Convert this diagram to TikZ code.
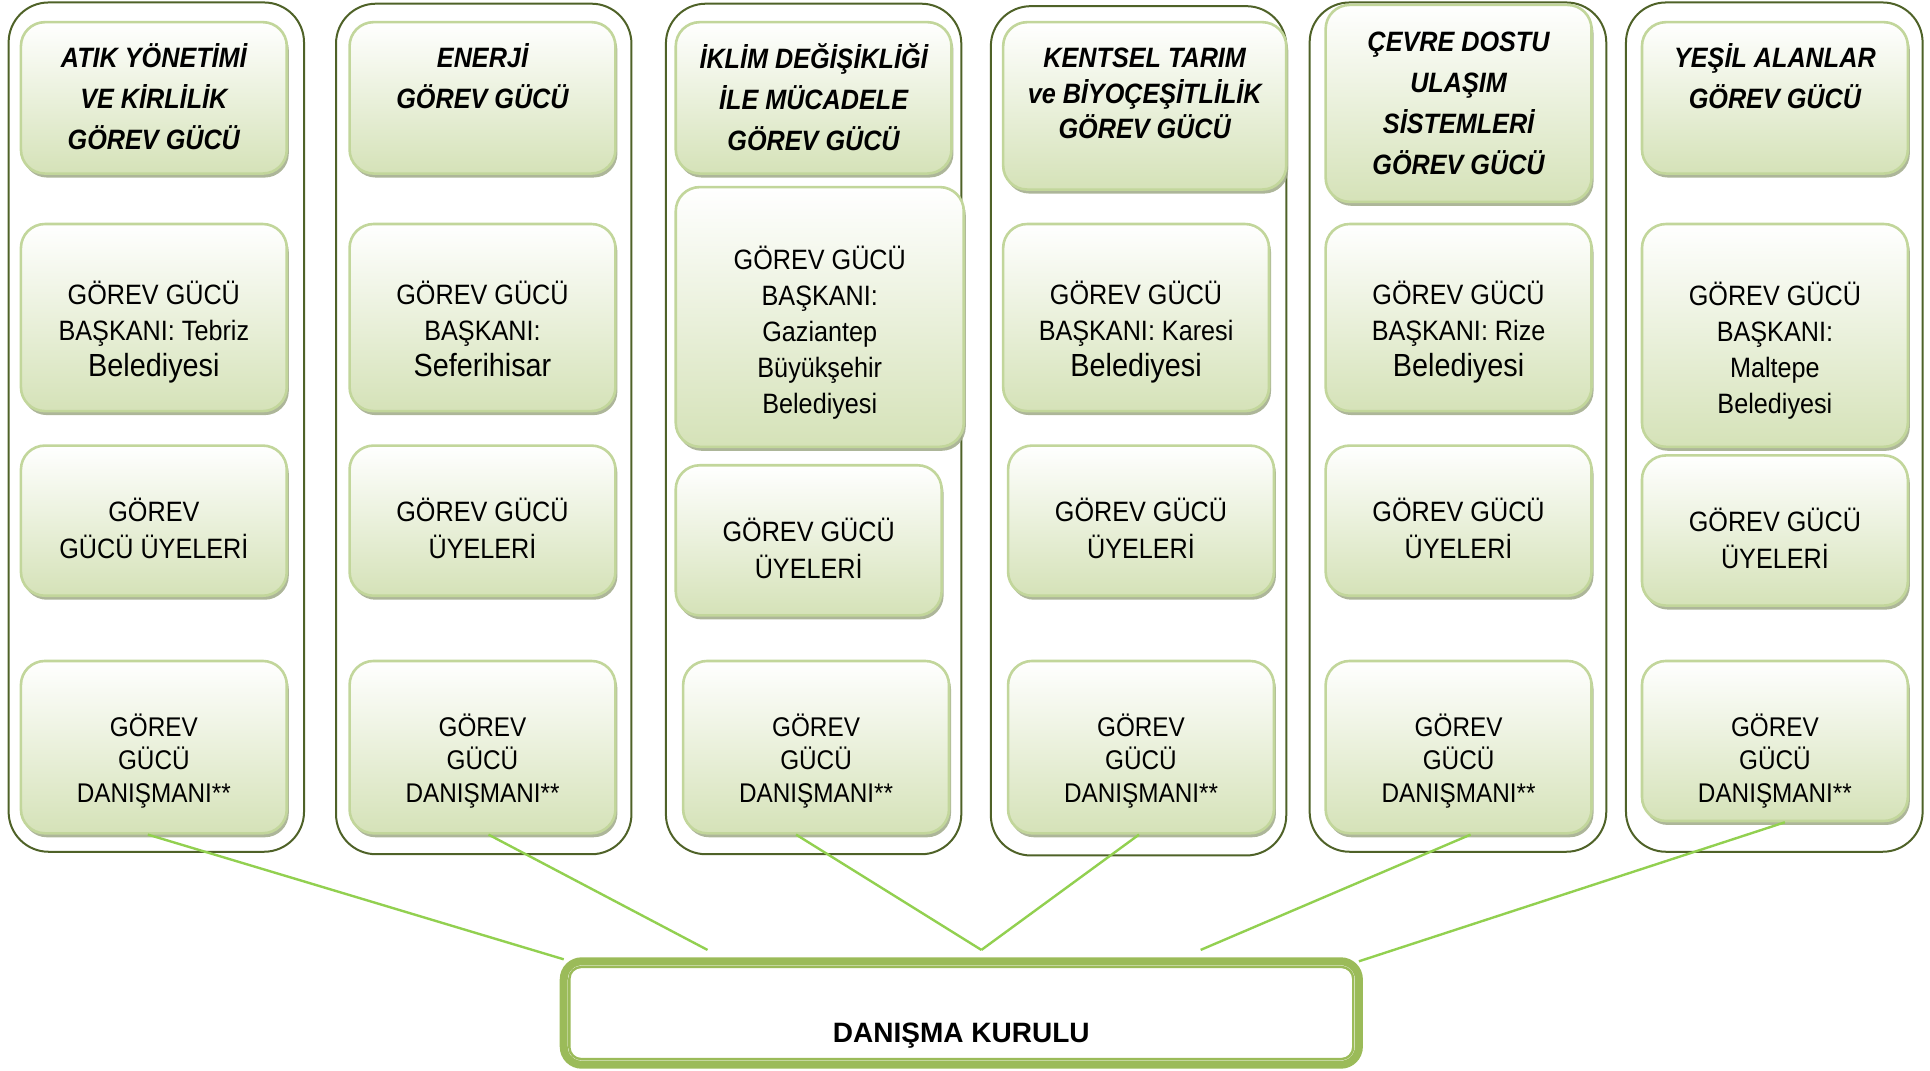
\documentclass[tikz,border=0pt]{standalone}
\usepackage{fontspec}
\setmainfont{Liberation Sans}[FakeStretch=0.9]
\newfontfamily\kurulfont{Liberation Sans}
\usepackage{tikz}
\usetikzlibrary{fit,shadows,calc}
\usepackage{xcolor}
\definecolor{koyuzeytin}{HTML}{4F6228}
\definecolor{kenaryesil}{HTML}{C2D69B}
\definecolor{dolguyesil}{HTML}{D5E2B8}
\definecolor{golge}{HTML}{A4AE8E}
\definecolor{cizgiyesil}{HTML}{92D050}
\definecolor{kurulyesil}{HTML}{9BBB59}

\begin{document}
\begin{tikzpicture}[x=0.6154pt,y=-0.6154pt,
      sutun/.style={draw=koyuzeytin,line width=1pt,rounded corners=20pt,
                    inner sep=0pt},
      kutu/.style={draw=kenaryesil,line width=1.3pt,rounded corners=12pt,
                   top color=white,bottom color=dolguyesil,
                   drop shadow={shadow xshift=1pt,shadow yshift=-2pt,
                                fill=golge,opacity=0.9},
                   inner sep=0pt},
      yazi/.style={align=center,inner sep=0pt,text=black},
      baslikyazi/.style={yazi,yshift=0.5pt,
                         font=\fontsize{14}{20.5}\selectfont\bfseries\itshape},
      baskanyazi/.style={yazi,yshift=-7.4pt,font=\fontsize{14}{18}\selectfont},
      uyeyazi/.style={yazi,yshift=-4pt,font=\fontsize{14}{18.5}\selectfont},
      danismanyazi/.style={yazi,yshift=-7.1pt,font=\fontsize{13.5}{16.6}\selectfont},
      kurulyazi/.style={yazi,yshift=-11.5pt,
                        font=\kurulfont\fontsize{14}{16}\selectfont\bfseries},
      kurul/.style={draw=kurulyesil,line width=4pt,rounded corners=9pt,
                    fill=white,inner sep=0pt},
      kurulic/.style={draw=kurulyesil,line width=1.2pt,rounded corners=6pt},
      baglanti/.style={draw=cizgiyesil,line width=1.2pt},
    ]
    \newcommand{\buyuk}{\fontsize{16}{18}\selectfont}
    \useasboundingbox (0,0) rectangle (1568,870);

    % Columns
    \node[sutun,fit={(7,2)(247,692)}]     (sutun1) {};
    \node[sutun,fit={(273,3)(513,694)}]   (sutun2) {};
    \node[sutun,fit={(541,3)(781,694)}]   (sutun3) {};
    \node[sutun,fit={(805,5)(1045,695)}]  (sutun4) {};
    \node[sutun,fit={(1064,2)(1305,692)}] (sutun5) {};
    \node[sutun,fit={(1321,2)(1562,692)}] (sutun6) {};

    % Task force titles
    \node[kutu,fit={(17,18)(233,141)},
          label={[baslikyazi]center:{ATIK YÖNETİMİ\\VE KİRLİLİK\\GÖREV GÜCÜ}}] (baslik1) {};
    \node[kutu,fit={(284,18)(500,141)},
          label={[baslikyazi,yshift=10.3pt]center:{ENERJİ\\GÖREV GÜCÜ}}] (baslik2) {};
    \node[kutu,fit={(549,18)(773,141)},
          label={[baslikyazi]center:{İKLİM DEĞİŞİKLİĞİ\\İLE MÜCADELE\\GÖREV GÜCÜ}}] (baslik3) {};
    \node[kutu,fit={(815,18)(1045,154)},
          label={[baslikyazi,yshift=5.6pt,font=\fontsize{14}{17.8}\selectfont\bfseries\itshape]
                 center:{KENTSEL TARIM\\ve BİYOÇEŞİTLİLİK\\GÖREV GÜCÜ}}] (baslik4) {};
    \node[kutu,fit={(1077,4)(1293,164)},
          label={[baslikyazi,yshift=-0.7pt]center:{ÇEVRE DOSTU\\ULAŞIM\\SİSTEMLERİ\\GÖREV GÜCÜ}}] (baslik5) {};
    \node[kutu,fit={(1334,18)(1550,141)},
          label={[baslikyazi,yshift=10.3pt]center:{YEŞİL ALANLAR\\GÖREV GÜCÜ}}] (baslik6) {};

    % Chairs
    \node[kutu,fit={(17,182)(233,334)},
          label={[baskanyazi]center:{GÖREV GÜCÜ\\BAŞKANI: Tebriz\\{\buyuk Belediyesi}}}] (baskan1) {};
    \node[kutu,fit={(284,182)(500,334)},
          label={[baskanyazi,yshift=1.5pt]center:{GÖREV GÜCÜ\\BAŞKANI:\\{\buyuk Seferihisar}}}] (baskan2) {};
    \node[kutu,fit={(549,152)(783,363)},
          label={[baskanyazi,yshift=-0.5pt]center:{GÖREV GÜCÜ\\BAŞKANI:\\Gaziantep\\Büyükşehir\\Belediyesi}}] (baskan3) {};
    \node[kutu,fit={(815,182)(1031,334)},
          label={[baskanyazi]center:{GÖREV GÜCÜ\\BAŞKANI: Karesi\\{\buyuk Belediyesi}}}] (baskan4) {};
    \node[kutu,fit={(1077,182)(1293,334)},
          label={[baskanyazi]center:{GÖREV GÜCÜ\\BAŞKANI: Rize\\{\buyuk Belediyesi}}}] (baskan5) {};
    \node[kutu,fit={(1334,182)(1550,363)},
          label={[baskanyazi]center:{GÖREV GÜCÜ\\BAŞKANI:\\Maltepe\\Belediyesi}}] (baskan6) {};

    % Members
    \node[kutu,fit={(17,362)(233,484)},
          label={[uyeyazi]center:{GÖREV\\GÜCÜ ÜYELERİ}}] (uye1) {};
    \node[kutu,fit={(284,362)(500,484)},
          label={[uyeyazi]center:{GÖREV GÜCÜ\\ÜYELERİ}}] (uye2) {};
    \node[kutu,fit={(549,378)(765,500)},
          label={[uyeyazi]center:{GÖREV GÜCÜ\\ÜYELERİ}}] (uye3) {};
    \node[kutu,fit={(819,362)(1035,484)},
          label={[uyeyazi]center:{GÖREV GÜCÜ\\ÜYELERİ}}] (uye4) {};
    \node[kutu,fit={(1077,362)(1293,484)},
          label={[uyeyazi]center:{GÖREV GÜCÜ\\ÜYELERİ}}] (uye5) {};
    \node[kutu,fit={(1334,370)(1550,492)},
          label={[uyeyazi]center:{GÖREV GÜCÜ\\ÜYELERİ}}] (uye6) {};

    % Advisors
    \node[kutu,fit={(17,537)(233,677)},
          label={[danismanyazi]center:{GÖREV\\GÜCÜ\\DANIŞMANI**}}] (danisman1) {};
    \node[kutu,fit={(284,537)(500,677)},
          label={[danismanyazi]center:{GÖREV\\GÜCÜ\\DANIŞMANI**}}] (danisman2) {};
    \node[kutu,fit={(555,537)(771,677)},
          label={[danismanyazi]center:{GÖREV\\GÜCÜ\\DANIŞMANI**}}] (danisman3) {};
    \node[kutu,fit={(819,537)(1035,677)},
          label={[danismanyazi]center:{GÖREV\\GÜCÜ\\DANIŞMANI**}}] (danisman4) {};
    \node[kutu,fit={(1077,537)(1293,677)},
          label={[danismanyazi]center:{GÖREV\\GÜCÜ\\DANIŞMANI**}}] (danisman5) {};
    \node[kutu,fit={(1334,537)(1550,667)},
          label={[danismanyazi,yshift=-2.9pt]center:{GÖREV\\GÜCÜ\\DANIŞMANI**}}] (danisman6) {};

    % Advisory board
    \node[kurul,fit={(458,781)(1104,865)},
          label={[kurulyazi]center:DANIŞMA KURULU}] (kurul) {};
    \draw[kurulic] ([shift={(4.8pt,-4.8pt)}]kurul.north west)
      rectangle ([shift={(-4.8pt,4.8pt)}]kurul.south east);

    % Connector ends on the board
    \coordinate (k1) at ([shift={(2pt,-1pt)}]kurul.north west);
    \coordinate (k2) at ($(kurul.north west)!0.184!(kurul.north east)+(0,-6)$);
    \coordinate (k3) at ($(kurul.north west)!0.525!(kurul.north east)+(0,-6)$);
    \coordinate (k4) at ($(kurul.north west)!0.798!(kurul.north east)+(0,-6)$);
    \coordinate (k5) at ([shift={(-2pt,-2pt)}]kurul.north east);

    % Connectors
    \draw[baglanti] ([xshift=-3pt]danisman1.south) -- (k1);
    \draw[baglanti] ([xshift=3pt]danisman2.south)  -- (k2);
    \draw[baglanti] ([xshift=-10pt]danisman3.south) -- (k3);
    \draw[baglanti] ([xshift=-1pt]danisman4.south) -- (k3);
    \draw[baglanti] ([xshift=6pt]danisman5.south)  -- (k4);
    \draw[baglanti] ([xshift=5pt]danisman6.south)  -- (k5);

  \end{tikzpicture}
\end{document}
